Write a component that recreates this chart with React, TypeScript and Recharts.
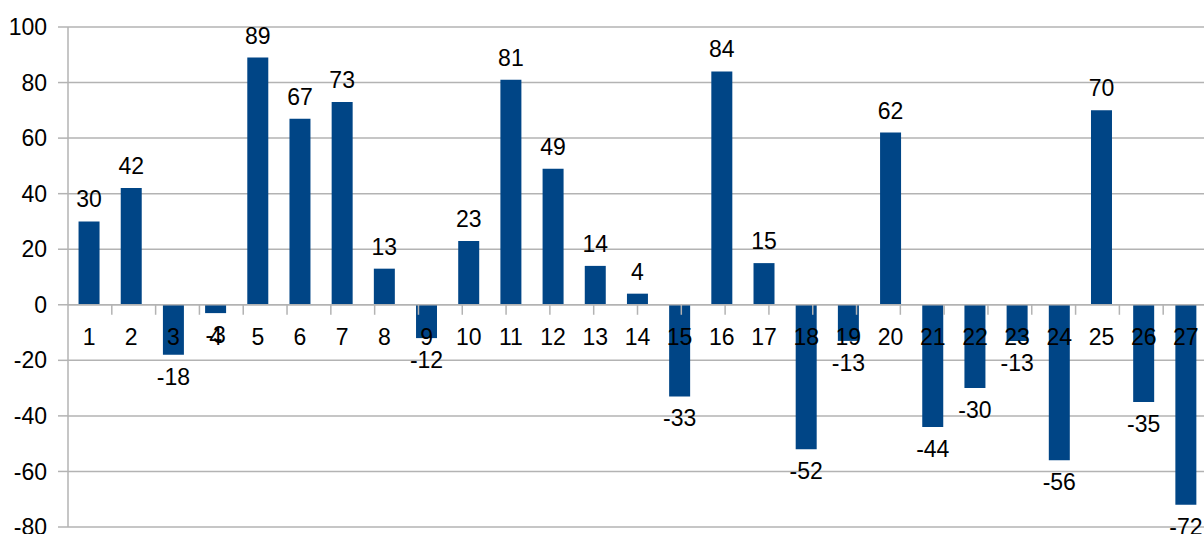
import { BarChart, Bar, XAxis, YAxis, CartesianGrid, LabelList, ReferenceLine } from "recharts"

const categories = ["1", "2", "3", "4", "5", "6", "7", "8", "9", "10", "11", "12", "13", "14", "15", "16", "17", "18", "19", "20", "21", "22", "23", "24", "25", "26", "27"]
const values = [30, 42, -18, -3, 89, 67, 73, 13, -12, 23, 81, 49, 14, 4, -33, 84, 15, -52, -13, 62, -44, -30, -13, -56, 70, -35, -72]
const yTicks = [-80, -60, -40, -20, 0, 20, 40, 60, 80, 100]
// category boundaries, used for the small tick marks under the zero line
const boundaries = [1, 2, 3, 4, 5, 6, 7, 8, 9, 10, 11, 12, 13, 14, 15, 16, 17, 18, 19, 20, 21, 22, 23, 24, 25, 26]

const data = categories.map((cat, i) => ({ cat, value: values[i] }))

const FONT = "'Liberation Sans', Arial, sans-serif"
const GRID = "#b3b3b3"
const BLUE = "#004586"

function box(props: any) {
  const vb = props.viewBox ?? props
  const y = Number(vb.y)
  const h = Number(vb.height)
  return { cx: Number(vb.x) + Number(vb.width) / 2, top: Math.min(y, y + h), bottom: Math.max(y, y + h) }
}

function ValueLabel(props: any) {
  const { cx, top, bottom } = box(props)
  const v = Number(props.value)
  const y = v >= 0 ? top - 22 : bottom + 22
  return (
    <text x={cx} y={y} textAnchor="middle" dominantBaseline="central" fontSize={23} fontFamily={FONT} fill="#000">
      {v}
    </text>
  )
}

function CategoryLabel(props: any) {
  const { cx, top, bottom } = box(props)
  const v = Number(props.index !== undefined ? values[props.index] : 0)
  const base = v >= 0 ? bottom : top
  return (
    <text x={cx} y={base + 32} textAnchor="middle" dominantBaseline="central" fontSize={23} fontFamily={FONT} fill="#000">
      {props.value}
    </text>
  )
}

export default function App() {
  return (
    <div style={{ position: "fixed", top: 0, left: 0, width: 1204, height: 534, overflow: "hidden", background: "#fff" }}>
      <BarChart width={1220} height={534} data={data} margin={{ top: 27, right: 13, bottom: 7, left: 0 }} barCategoryGap="25%">
        <CartesianGrid horizontal vertical={false} stroke={GRID} strokeWidth={1.5} />
        <XAxis xAxisId="cat" dataKey="cat" hide />
        <XAxis xAxisId="num" type="number" domain={[0, 27]} hide />
        <YAxis
          domain={[-80, 100]}
          ticks={yTicks}
          width={68}
          tickSize={10}
          tickMargin={11}
          axisLine={{ stroke: GRID, strokeWidth: 1.5 }}
          tickLine={{ stroke: GRID, strokeWidth: 1.5 }}
          tick={{ fontSize: 23, fontFamily: FONT, fill: "#000" }}
          interval={0}
        />
        <ReferenceLine xAxisId="num" y={0} stroke={GRID} strokeWidth={1.5} />
        {boundaries.map((b) => (
          <ReferenceLine
            key={b}
            xAxisId="num"
            segment={[{ x: b, y: 0 }, { x: b, y: -3.6 }]}
            stroke={GRID}
            strokeWidth={1.5}
          />
        ))}
        <Bar xAxisId="cat" dataKey="value" fill={BLUE} isAnimationActive={false}>
          <LabelList dataKey="cat" content={CategoryLabel} />
          <LabelList dataKey="value" content={ValueLabel} />
        </Bar>
      </BarChart>
    </div>
  )
}
